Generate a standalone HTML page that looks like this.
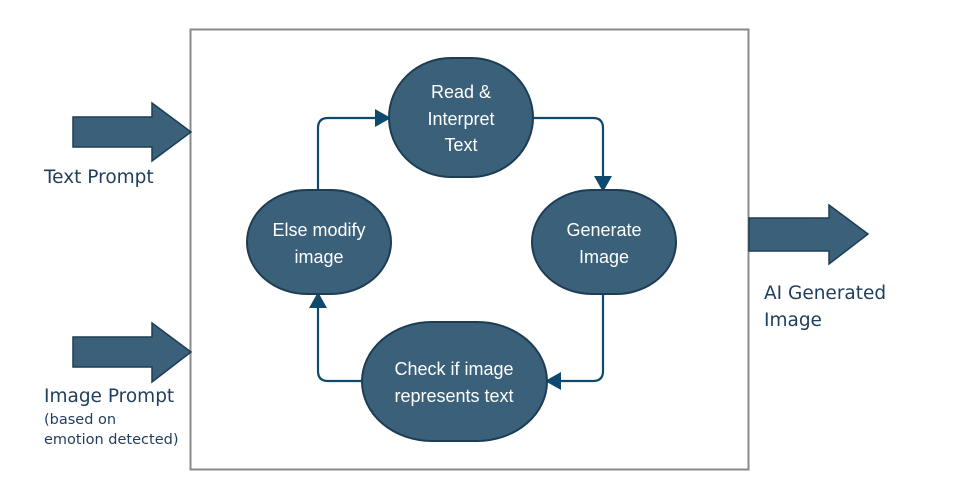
<!DOCTYPE html>
<html><head><meta charset="utf-8"><style>
html,body{margin:0;padding:0;background:#fff;}
svg{display:block;}
text{font-family:"Liberation Sans",sans-serif;}
.dv{font-family:"DejaVu Sans",sans-serif;}
</style></head><body>
<svg width="954" height="504" viewBox="0 0 954 504" xmlns="http://www.w3.org/2000/svg">
<defs>
<marker id="ah" markerWidth="16" markerHeight="18" refX="14" refY="9" orient="auto" markerUnits="userSpaceOnUse">
<path d="M0,0 L16,9 L0,18 Z" fill="#0f4a6e"/>
</marker>
</defs>
<rect x="190.5" y="29.5" width="558" height="440" fill="#fff" stroke="#8a8a8a" stroke-width="2"/>
<g fill="#3b6079" stroke="#1d3d55" stroke-width="1.5">
<path d="M73,117 H152 V103 L191,132 L152,161 V147 H73 Z"/>
<path d="M73,337 H152 V323 L191,352 L152,382 V367 H73 Z"/>
<path d="M749,218 H829 V205 L868,234 L829,264 V251 H749 Z"/>
</g>
<g fill="none" stroke="#0f4a6e" stroke-width="2.2">
<path d="M318,190 V128 Q318,118 328,118 H389" marker-end="url(#ah)"/>
<path d="M533,118 H593 Q603,118 603,128 V190" marker-end="url(#ah)"/>
<path d="M603,294 V371 Q603,381 593,381 H547" marker-end="url(#ah)"/>
<path d="M362,381 H328 Q318,381 318,371 V294" marker-end="url(#ah)"/>
</g>
<g fill="#3b6079" stroke="#1d3d55" stroke-width="2">
<rect x="389" y="58" width="144" height="119" rx="62" ry="59.5"/>
<rect x="247" y="190" width="144" height="104" rx="60" ry="52"/>
<rect x="532" y="190" width="144" height="104" rx="60" ry="52"/>
<rect x="362" y="322" width="185" height="119" rx="70" ry="59.5"/>
</g>
<g fill="#fff" font-size="18" text-anchor="middle">
<text x="461" y="98">Read &amp;</text>
<text x="461" y="125">Interpret</text>
<text x="461" y="151">Text</text>
<text x="319" y="236">Else modify</text>
<text x="319" y="263">image</text>
<text x="604" y="236">Generate</text>
<text x="604" y="263">Image</text>
<text x="454" y="375">Check if image</text>
<text x="454" y="402">represents text</text>
</g>
<g fill="#1f3d5c">
<text class="dv" x="44" y="183" font-size="18.5">Text Prompt</text>
<text class="dv" x="44" y="402" font-size="18.5">Image Prompt</text>
<text class="dv" x="44" y="424" font-size="14.5">(based on</text>
<text class="dv" x="44" y="444" font-size="14.5">emotion detected)</text>
<text class="dv" x="764" y="299" font-size="18.5">AI Generated</text>
<text class="dv" x="764" y="326" font-size="18.5">Image</text>
</g>
</svg>
</body></html>
